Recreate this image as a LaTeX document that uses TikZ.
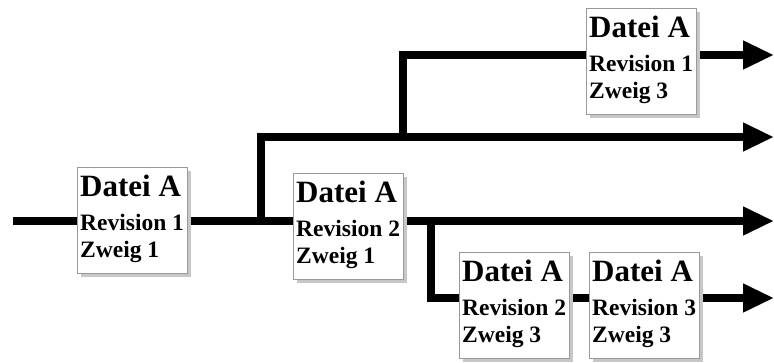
\documentclass[tikz,border=0pt]{standalone}
\usepackage{fontspec}
\setmainfont{Liberation Serif}
\usetikzlibrary{arrows.meta,shadows}
\pgfdeclarelayer{bg}
\pgfsetlayers{bg,main}
\begin{document}
\begin{tikzpicture}[x=1pt,y=-1pt,
  filebox/.style={draw=black!40, line width=0.8pt, fill=white,
    minimum width=110pt, minimum height=106pt, inner sep=0pt,
    drop shadow={shadow xshift=4pt, shadow yshift=-4pt, fill=black!22, opacity=1}},
  title/.style={anchor=base west, inner sep=0pt, font=\bfseries\fontsize{31}{31}\selectfont},
  info/.style={anchor=base west, inner sep=0pt, font=\bfseries\fontsize{23.5}{23.5}\selectfont},
  branch/.style={line width=7.5pt, line join=miter, line cap=butt},
  flow/.style={branch, -{Triangle[length=31pt,width=27pt]}},
  pics/revbox/.style 2 args={code={
    \node[filebox] (-box) at (0,0) {};
    \node[title] (-t) at (-52,-23) {Datei A};
    \node[info] (-r) at (-52,11) {Revision #1};
    \node[info] (-z) at (-52,38) {Zweig #2};
  }}]
\useasboundingbox (0,0) rectangle (774,363);

% revisions of file A
\pic (b1) at (132,220) {revbox={1}{1}};
\pic (b2) at (348,226) {revbox={2}{1}};
\pic (b3) at (641,61)  {revbox={1}{3}};
\pic (b4) at (514,305) {revbox={2}{3}};
\pic (b5) at (644,305) {revbox={3}{3}};

% branch points and line ends
\coordinate (s)  at (13,221);
\coordinate (j1) at (261,221);
\coordinate (j2) at (403,137);
\coordinate (j3) at (431,221);
\coordinate (e1) at (774,55);
\coordinate (e2) at (774,137);
\coordinate (e3) at (774,221);
\coordinate (e4) at (774,298);

\begin{pgfonlayer}{bg}
  % branch 1
  \draw[branch] (s) -- (b1-box.west |- s);
  \draw[branch] (b1-box.east |- s) -- (b2-box.west |- s);
  \draw[flow] (b2-box.east |- s) -- (e3);
  % branch 2
  \draw[flow] (j1) |- (e2);
  % branch 3 from branch 2
  \draw[branch] (j2) |- (b3-box.west |- e1);
  \draw[flow] (b3-box.east |- e1) -- (e1);
  % branch 3 from branch 1
  \draw[branch] (j3) |- (b4-box.west |- e4);
  \draw[branch] (b4-box.east |- e4) -- (b5-box.west |- e4);
  \draw[flow] (b5-box.east |- e4) -- (e4);
\end{pgfonlayer}
\end{tikzpicture}
\end{document}
